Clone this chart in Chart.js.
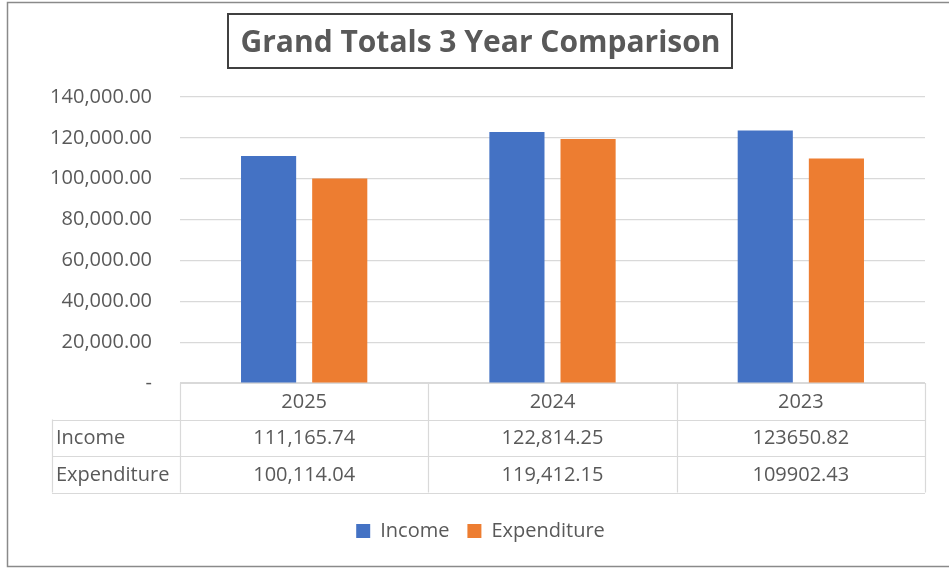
<!DOCTYPE html>
<html>
<head>
<meta charset="utf-8">
<script src="https://cdn.jsdelivr.net/npm/chart.js@4"></script>
<style>
html,body{margin:0;padding:0;background:#fff;}
#wrap{width:949px;height:568px;position:relative;}
</style>
</head>
<body>
<div id="wrap"><canvas id="c" width="949" height="568"></canvas></div>
<script>
const categories = ["2025", "2024", "2023"];
const income = [111165.74, 122814.25, 123650.82];
const expenditure = [100114.04, 119412.15, 109902.43];
const incomeText = ["111,165.74", "122,814.25", "123650.82"];
const expenditureText = ["100,114.04", "119,412.15", "109902.43"];
const seriesNames = ["Income", "Expenditure"];
const titleText = "Grand Totals 3 Year Comparison";

const FONT = "'Open Sans', Lato, sans-serif";
const TXT = "#595959";
const GRID = "#d9d9d9";
const TITLE_SIZE = 30;

const fmt = v => v === 0 ? "-" : v.toLocaleString("en-US", {minimumFractionDigits: 2, maximumFractionDigits: 2});

const tablePlugin = {
  id: "tablePlugin",
  afterDraw(chart) {
    const ctx = chart.ctx, ca = chart.chartArea, xs = chart.scales.x;
    const n = categories.length;
    const colW = (ca.right - ca.left) / n;
    const top = ca.bottom, rowH = 36.5, labelLeft = 52;
    ctx.save();
    ctx.strokeStyle = GRID; ctx.lineWidth = 1.2;
    ctx.beginPath();
    ctx.moveTo(ca.left, top + 0.5); ctx.lineTo(ca.right, top + 0.5);
    for (let r = 1; r <= 3; r++) {
      const y = Math.round(top + r * rowH) + 0.5;
      ctx.moveTo(labelLeft, y); ctx.lineTo(ca.right, y);
    }
    for (let i = 0; i <= n; i++) {
      const x = Math.round(ca.left + i * colW) + 0.5;
      ctx.moveTo(x, top); ctx.lineTo(x, top + 3 * rowH);
    }
    ctx.moveTo(labelLeft + 0.5, top + rowH); ctx.lineTo(labelLeft + 0.5, top + 3 * rowH);
    ctx.stroke();
    ctx.fillStyle = TXT;
    ctx.font = "20px " + FONT;
    ctx.textBaseline = "middle";
    ctx.textAlign = "center";
    categories.forEach((c, i) => {
      const cx = xs.getPixelForValue(i);
      ctx.fillText(c, cx, top + rowH * 0.5 + 1);
      ctx.fillText(incomeText[i], cx, top + rowH * 1.5 + 1);
      ctx.fillText(expenditureText[i], cx, top + rowH * 2.5 + 1);
    });
    ctx.textAlign = "left";
    ctx.fillText(seriesNames[0], labelLeft + 4, top + rowH * 1.5 + 1);
    ctx.fillText(seriesNames[1], labelLeft + 4, top + rowH * 2.5 + 1);

    // title box
    const t = chart.titleBlock;
    ctx.font = "bold " + TITLE_SIZE + "px " + FONT;
    const tw = ctx.measureText(titleText).width;
    const cx = (t.left + t.right) / 2;
    ctx.strokeStyle = "#404040"; ctx.lineWidth = 2;
    ctx.strokeRect(Math.round(cx - tw / 2 - 12), 14, Math.round(tw + 24), 54);
    // outer border
    ctx.strokeStyle = "#8a8a8a"; ctx.lineWidth = 1.5;
    ctx.strokeRect(7.5, 2.5, 960, 564);
    ctx.restore();
  }
};

new Chart(document.getElementById("c"), {
  type: "bar",
  data: {
    labels: categories,
    datasets: [
      {label: seriesNames[0], data: income, backgroundColor: "#4472C4", categoryPercentage: 0.573, barPercentage: 0.775},
      {label: seriesNames[1], data: expenditure, backgroundColor: "#ED7D31", categoryPercentage: 0.573, barPercentage: 0.775}
    ]
  },
  options: {
    responsive: false,
    animation: false,
    layout: {padding: {top: 0, right: 24, bottom: 17, left: 36}},
    plugins: {
      title: {
        display: true, text: titleText, color: TXT,
        font: {family: FONT, size: TITLE_SIZE, weight: "bold", lineHeight: 1.2},
        padding: {top: 25, bottom: 36}
      },
      legend: {
        position: "bottom",
        labels: {
          color: TXT, font: {family: FONT, size: 20},
          boxWidth: 14, boxHeight: 14, padding: 18
        }
      },
      tooltip: {enabled: false}
    },
    scales: {
      x: {
        grid: {display: false, drawTicks: false},
        border: {display: false},
        ticks: {display: false},
        afterFit: s => { s.height = 120; }
      },
      y: {
        min: 0, max: 140000,
        grid: {color: GRID, lineWidth: 1.2, drawTicks: false},
        border: {display: false},
        ticks: {
          stepSize: 20000, color: TXT, padding: 28,
          font: {family: FONT, size: 20},
          callback: v => fmt(v)
        },
        afterFit: s => { s.width = 144; }
      }
    }
  },
  plugins: [tablePlugin]
});
</script>
</body>
</html>
